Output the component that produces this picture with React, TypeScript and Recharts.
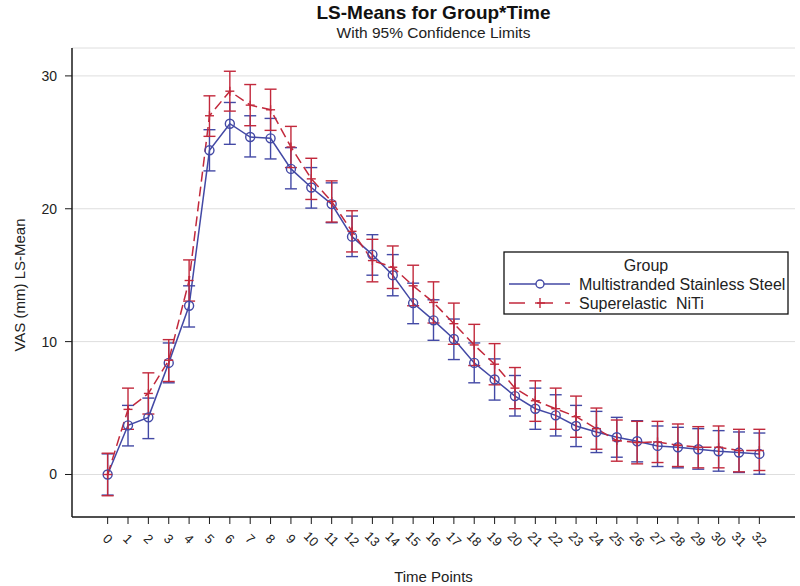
import React from "react";
import {
  ComposedChart,
  Line,
  XAxis,
  YAxis,
  CartesianGrid,
  ErrorBar,
} from "recharts";

const timePoints = [
  0, 1, 2, 3, 4, 5, 6, 7, 8, 9, 10, 11, 12, 13, 14, 15, 16, 17, 18, 19, 20,
  21, 22, 23, 24, 25, 26, 27, 28, 29, 30, 31, 32,
];

const steelMean = [
  0, 3.7, 4.3, 8.4, 12.7, 24.4, 26.4, 25.4, 25.3, 23.0, 21.6, 20.35, 17.9,
  16.55, 15.0, 12.9, 11.6, 10.2, 8.4, 7.15, 5.9, 4.95, 4.45, 3.65, 3.2, 2.8,
  2.5, 2.15, 2.05, 1.9, 1.75, 1.65, 1.55,
];
const steelLower = [
  -1.55, 2.15, 2.7, 6.9, 11.1, 22.85, 24.85, 23.9, 23.75, 21.5, 20.05, 18.95,
  16.4, 15.0, 13.45, 11.35, 10.1, 8.65, 6.9, 5.6, 4.4, 3.4, 2.9, 2.1, 1.65,
  1.3, 0.95, 0.6, 0.5, 0.4, 0.25, 0.15, 0.02,
];
const steelUpper = [
  1.55, 5.2, 5.75, 9.9, 14.2, 25.95, 28.0, 27.0, 26.8, 24.6, 23.1, 21.95,
  19.45, 18.05, 16.55, 14.4, 13.15, 11.7, 9.9, 8.7, 7.45, 6.5, 6.0, 5.2, 4.75,
  4.3, 4.05, 3.65, 3.55, 3.45, 3.3, 3.2, 3.12,
];

const nitiMean = [
  0, 4.9, 6.1, 8.6, 14.6, 27.0, 28.85, 27.8, 27.45, 24.65, 22.25, 20.55, 18.3,
  16.1, 15.6, 14.2, 12.95, 11.35, 9.75, 8.3, 6.5, 5.55, 4.95, 4.35, 3.45,
  2.55, 2.4, 2.45, 2.2, 2.05, 2.05, 1.8, 1.8,
];
const nitiLower = [
  -1.6, 3.4, 4.55, 7.0, 13.05, 25.45, 27.35, 26.25, 25.9, 23.1, 20.7, 19.0,
  16.75, 14.5, 14.0, 12.7, 11.4, 9.8, 8.2, 6.75, 4.95, 4.0, 3.4, 2.8, 1.9,
  1.0, 0.8, 0.9, 0.6, 0.5, 0.5, 0.2, 0.3,
];
const nitiUpper = [
  1.6, 6.5, 7.65, 10.15, 16.15, 28.5, 30.35, 29.35, 29.0, 26.2, 23.8, 22.1,
  19.85, 17.7, 17.2, 15.75, 14.5, 12.9, 11.3, 9.85, 8.05, 7.05, 6.5, 5.9, 5.0,
  4.1, 4.0, 4.0, 3.8, 3.6, 3.65, 3.4, 3.4,
];

const yTicks = [0, 10, 20, 30];

const seriesNames = ["Multistranded Stainless Steel", "Superelastic  NiTi"];

const BLUE = "#4349a5";
const RED = "#c2293c";
const FONT = "'Liberation Sans', Arial, Helvetica, sans-serif";

const data = timePoints.map((t, i) => ({
  t,
  steel: steelMean[i],
  steelErr: [steelMean[i] - steelLower[i], steelUpper[i] - steelMean[i]],
  niti: nitiMean[i],
  nitiErr: [nitiMean[i] - nitiLower[i], nitiUpper[i] - nitiMean[i]],
}));

const CircleDot = (props: any) => {
  const { cx, cy, index } = props;
  if (cx == null || cy == null) return <g key={`c${index}`} />;
  return (
    <circle
      key={`c${index}`}
      cx={cx}
      cy={cy}
      r={4.5}
      fill="none"
      stroke={BLUE}
      strokeWidth={1.4}
    />
  );
};

const PlusDot = (props: any) => {
  const { cx, cy, index } = props;
  if (cx == null || cy == null) return <g key={`p${index}`} />;
  return (
    <g key={`p${index}`}>
      <line x1={cx - 4.5} y1={cy} x2={cx + 4.5} y2={cy} stroke={RED} strokeWidth={1.4} />
      <line x1={cx} y1={cy - 4.5} x2={cx} y2={cy + 4.5} stroke={RED} strokeWidth={1.4} />
    </g>
  );
};

const XTick = (props: any) => {
  const { x, y, payload } = props;
  const yy = y + 13;
  return (
    <text
      x={x}
      y={yy}
      transform={`rotate(45, ${x}, ${yy})`}
      textAnchor="middle"
      dominantBaseline="central"
      fontSize={13}
      fontFamily={FONT}
      fill="#222"
    >
      {payload.value}
    </text>
  );
};

export default function App() {
  return (
    <div
      style={{
        position: "absolute",
        left: 0,
        top: 0,
        width: 800,
        height: 586,
        background: "#fff",
        fontFamily: FONT,
      }}
    >
      <ComposedChart
        width={800}
        height={586}
        data={data}
        margin={{ top: 48, right: 5, bottom: 0, left: 0 }}
      >
        <CartesianGrid vertical={false} stroke="#dedede" strokeWidth={1} />
        <XAxis
          dataKey="t"
          type="number"
          domain={[-1.75, 33.75]}
          allowDataOverflow
          ticks={timePoints}
          interval={0}
          height={69}
          tickSize={7}
          tickMargin={2}
          tick={<XTick />}
          axisLine={{ stroke: "#1a1a1a", strokeWidth: 1.5 }}
          tickLine={{ stroke: "#1a1a1a", strokeWidth: 1 }}
        />
        <XAxis
          xAxisId="top"
          orientation="top"
          type="number"
          domain={[-1.75, 33.75]}
          allowDataOverflow
          height={0}
          tick={false}
          tickLine={false}
          axisLine={{ stroke: "#1a1a1a", strokeWidth: 1.5 }}
        />
        <YAxis
          type="number"
          domain={[-3.2, 32.1]}
          allowDataOverflow
          ticks={yTicks}
          width={72}
          tickSize={7}
          tickMargin={8}
          tick={{ fontSize: 14, fill: "#222", fontFamily: FONT }}
          axisLine={{ stroke: "#1a1a1a", strokeWidth: 1.5 }}
          tickLine={{ stroke: "#1a1a1a", strokeWidth: 1 }}
        />
        <YAxis
          yAxisId="right"
          orientation="right"
          type="number"
          domain={[-3.2, 32.1]}
          allowDataOverflow
          width={0}
          tick={false}
          tickLine={false}
          axisLine={{ stroke: "#1a1a1a", strokeWidth: 1.5 }}
        />
        <Line
          dataKey="steel"
          name={seriesNames[0]}
          stroke={BLUE}
          strokeWidth={1.5}
          dot={<CircleDot />}
          activeDot={false}
          isAnimationActive={false}
        >
          <ErrorBar
            dataKey="steelErr"
            direction="y"
            width={6}
            stroke={BLUE}
            strokeWidth={1.4}
            isAnimationActive={false}
          />
        </Line>
        <Line
          dataKey="niti"
          name={seriesNames[1]}
          stroke={RED}
          strokeWidth={1.5}
          strokeDasharray="10 5"
          dot={<PlusDot />}
          activeDot={false}
          isAnimationActive={false}
        >
          <ErrorBar
            dataKey="nitiErr"
            direction="y"
            width={6}
            stroke={RED}
            strokeWidth={1.4}
            isAnimationActive={false}
          />
        </Line>
      </ComposedChart>
      <svg
        width={800}
        height={586}
        style={{ position: "absolute", left: 0, top: 0, pointerEvents: "none" }}
        fontFamily={FONT}
      >
        <text x={433.5} y={19} textAnchor="middle" fontSize={19} fontWeight="bold" fill="#111">
          LS-Means for Group*Time
        </text>
        <text x={433.5} y={38} textAnchor="middle" fontSize={15.5} fill="#222">
          With 95% Confidence Limits
        </text>
        <text x={433.5} y={582} textAnchor="middle" fontSize={15} fill="#222">
          Time Points
        </text>
        <text
          x={25}
          y={285}
          textAnchor="middle"
          fontSize={15}
          fill="#222"
          transform="rotate(-90, 25, 285)"
        >
          VAS (mm) LS-Mean
        </text>
        <g>
          <rect x={504} y={252} width={284} height={62} fill="#fff" stroke="#111" strokeWidth={1.3} />
          <text x={646} y={271} textAnchor="middle" fontSize={16} fill="#222">
            Group
          </text>
          <line x1={509} y1={284} x2={570} y2={284} stroke={BLUE} strokeWidth={1.5} />
          <circle cx={540} cy={284} r={4} fill="#fff" stroke={BLUE} strokeWidth={1.4} />
          <text x={579} y={289.5} fontSize={16} fill="#222">
            {seriesNames[0]}
          </text>
          <line x1={509} y1={303} x2={570} y2={303} stroke={RED} strokeWidth={1.5} strokeDasharray="16 12" />
          <line x1={535} y1={303} x2={545} y2={303} stroke={RED} strokeWidth={1.4} />
          <line x1={540} y1={298} x2={540} y2={308} stroke={RED} strokeWidth={1.4} />
          <text x={579} y={308.5} fontSize={16} fill="#222" style={{ whiteSpace: "pre" }}>
            {seriesNames[1]}
          </text>
        </g>
      </svg>
    </div>
  );
}
